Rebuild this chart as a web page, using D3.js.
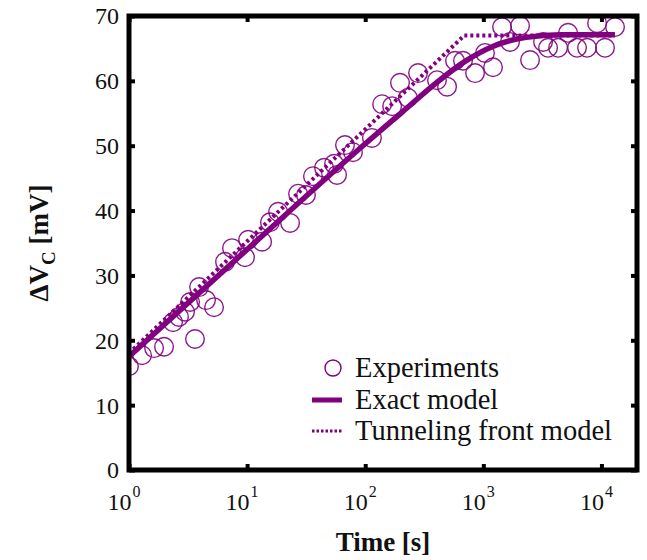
<!DOCTYPE html>
<html>
<head>
<meta charset="utf-8">
<script src="https://cdn.jsdelivr.net/npm/d3@7"></script>
<style>
  html, body { margin: 0; padding: 0; background: #fff; }
  svg { display: block; font-family: "Liberation Serif", "Times New Roman", serif; }
</style>
</head>
<body>
<svg id="chart" width="647" height="560"></svg>
<script>
// ---- data ----
const expTime = [1.0, 1.29, 1.63, 1.98, 3.62, 2.36, 2.65, 2.98, 3.29, 3.92, 4.49, 5.25,
  6.5, 7.45, 9.6, 10.2, 13.4, 15.6, 18.3, 23.1, 27.0, 31.5, 36.1, 44.8, 54.5, 57.7,
  67.4, 78.8, 114, 139, 169, 197, 230, 280, 405, 493, 576, 673, 851, 1033, 1208,
  1440, 1683, 2046, 2485, 3204, 3533, 4296, 5216, 6213, 7553, 9180, 10720, 13030];
const expValue = [16.0, 17.7, 18.8, 19.0, 20.2, 22.8, 23.6, 24.4, 25.9, 28.2, 26.2, 25.1,
  32.1, 34.2, 32.8, 35.5, 35.2, 38.2, 39.8, 38.1, 42.6, 42.4, 45.3, 46.6, 47.2, 45.5,
  50.1, 49.0, 51.2, 56.4, 56.1, 59.7, 57.4, 61.2, 60.1, 59.1, 63.1, 63.1, 61.2, 64.3, 62.1,
  68.3, 66.0, 68.5, 63.2, 66.0, 65.1, 65.1, 67.4, 65.1, 65.1, 68.9, 65.1, 68.3];

const exactTime  = [1, 10, 100, 200, 400, 700, 1200, 2300, 4500, 13000];
const exactValue = [17.5, 34.0, 50.3, 55.0, 59.7, 63.0, 65.3, 66.7, 67.1, 67.1];

const tunnelTime  = [1, 690, 13000];
const tunnelValue = [18.0, 67.0, 67.0];

const xTickValues = [1, 10, 100, 1000, 10000];
const xTickExp = ["0", "1", "2", "3", "4"];
const yTickValues = [0, 10, 20, 30, 40, 50, 60, 70];

const legendLabels = ["Experiments", "Exact model", "Tunneling front model"];

// ---- layout ----
const color = "#800080";
const svg = d3.select("#chart");
const L = 129, R = 637, T = 16, B = 470;

const x = d3.scaleLog().domain([1, 20000]).range([L, R]);
const y = d3.scaleLinear().domain([0, 70]).range([B, T]);

svg.append("defs").append("clipPath").attr("id", "clip")
  .append("rect").attr("x", L).attr("y", T).attr("width", R - L).attr("height", B - T);

const plot = svg.append("g").attr("clip-path", "url(#clip)");

// experiments
plot.selectAll("circle.exp").data(expTime.map((t, i) => [t, expValue[i]]))
  .enter().append("circle").attr("class", "exp")
  .attr("cx", d => x(d[0])).attr("cy", d => y(d[1])).attr("r", 9.3)
  .attr("fill", "none").attr("stroke", color).attr("stroke-width", 1.4).attr("stroke-opacity", 0.9);

// exact model
const line = d3.line().x(d => x(d[0])).y(d => y(d[1])).curve(d3.curveMonotoneX);
plot.append("path").datum(exactTime.map((t, i) => [t, exactValue[i]]))
  .attr("d", line).attr("fill", "none").attr("stroke", color).attr("stroke-width", 5.5);

// tunneling front model
const line2 = d3.line().x(d => x(d[0])).y(d => y(d[1]));
plot.append("path").datum(tunnelTime.map((t, i) => [t, tunnelValue[i]]))
  .attr("d", line2).attr("fill", "none").attr("stroke", color)
  .attr("stroke-width", 4).attr("stroke-dasharray", "3,3");

// axes (box + inward ticks)
const fontTick = 24;
const xAxisB = d3.axisBottom(x).tickValues(xTickValues).tickSize(-6).tickFormat("");
const xAxisT = d3.axisTop(x).tickValues(xTickValues).tickSize(-6).tickFormat("");
const yAxisL = d3.axisLeft(y).tickValues(yTickValues).tickSize(-6).tickFormat("");
const yAxisR = d3.axisRight(y).tickValues(yTickValues).tickSize(-6).tickFormat("");

function styleAxis(g) {
  g.select(".domain").remove();
  g.selectAll(".tick line").attr("stroke", "#000").attr("stroke-width", 4);
}
svg.append("g").attr("transform", `translate(0,${B})`).call(xAxisB).call(styleAxis);
svg.append("g").attr("transform", `translate(0,${T})`).call(xAxisT).call(styleAxis);
svg.append("g").attr("transform", `translate(${L},0)`).call(yAxisL).call(styleAxis);
svg.append("g").attr("transform", `translate(${R},0)`).call(yAxisR).call(styleAxis);

svg.append("rect").attr("x", L).attr("y", T).attr("width", R - L).attr("height", B - T)
  .attr("fill", "none").attr("stroke", "#000").attr("stroke-width", 5);

// y tick labels
svg.append("g").selectAll("text").data(yTickValues).enter().append("text")
  .attr("x", L - 10).attr("y", d => y(d)).attr("dy", "0.35em")
  .attr("text-anchor", "end").attr("font-size", fontTick).attr("fill", "#111")
  .text(d => d);

// x tick labels 10^n
const xl = svg.append("g").selectAll("text").data(xTickValues).enter().append("text")
  .attr("x", d => x(d) - 5).attr("y", 510)
  .attr("text-anchor", "middle").attr("font-size", fontTick).attr("fill", "#111");
xl.append("tspan").text("10");
xl.append("tspan").attr("font-size", 16).attr("dy", -13).attr("dx", 1)
  .text((d, i) => xTickExp[i]);

// axis titles
svg.append("text").attr("x", 383).attr("y", 551).attr("text-anchor", "middle")
  .attr("font-size", 27).attr("font-weight", "bold").attr("fill", "#111").text("Time [s]");

const yt = svg.append("text").attr("transform", "translate(48,243) rotate(-90)")
  .attr("text-anchor", "middle").attr("font-size", 27).attr("font-weight", "bold").attr("fill", "#111");
yt.append("tspan").text("ΔV");
yt.append("tspan").attr("font-size", 19).attr("dy", 7).text("C");
yt.append("tspan").attr("dy", -7).text(" [mV]");

// legend
const lg = svg.append("g");
const lx = 312, lw = 30, ltx = 355;
const ly = [368, 400, 431];
lg.append("circle").attr("cx", lx + lw / 2 + 6).attr("cy", ly[0]).attr("r", 8)
  .attr("fill", "none").attr("stroke", color).attr("stroke-width", 1.4);
lg.append("line").attr("x1", lx).attr("x2", lx + lw).attr("y1", ly[1]).attr("y2", ly[1])
  .attr("stroke", color).attr("stroke-width", 5);
lg.append("line").attr("x1", lx).attr("x2", lx + lw).attr("y1", ly[2]).attr("y2", ly[2])
  .attr("stroke", color).attr("stroke-width", 3).attr("stroke-dasharray", "2.5,2");
lg.selectAll("text").data(legendLabels).enter().append("text")
  .attr("x", ltx).attr("y", (d, i) => ly[i]).attr("dy", "0.33em")
  .attr("font-size", 28.5).attr("fill", "#111").text(d => d);
</script>
</body>
</html>
